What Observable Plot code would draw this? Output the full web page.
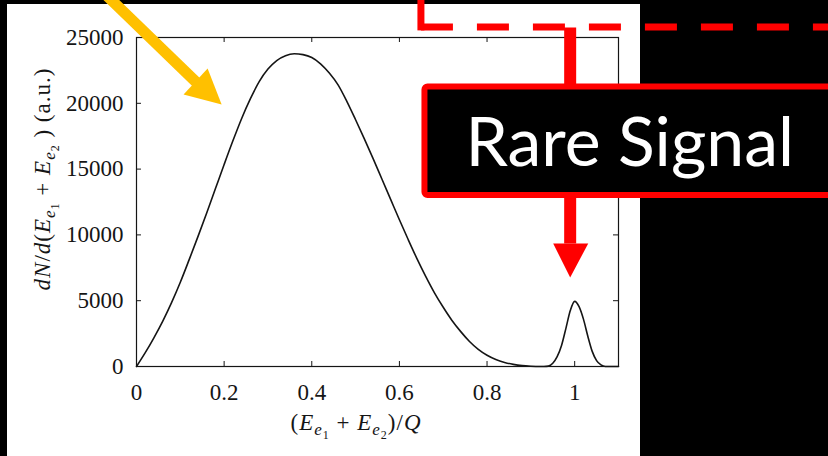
<!DOCTYPE html>
<html><head><meta charset="utf-8">
<script src="https://cdn.jsdelivr.net/npm/d3@7"></script>
<script src="https://cdn.jsdelivr.net/npm/@observablehq/plot@0.6"></script>
<style>
html,body{margin:0;padding:0;background:#000;width:828px;height:456px;overflow:hidden;}
#panel{position:absolute;left:7px;top:4px;width:633px;height:452px;background:#fff;}
#chart{position:absolute;left:0;top:0;}
</style></head><body>
<div id="panel"></div><div id="chart"></div>
<script>
// Summed electron energy (fraction of Q) and spectrum counts (a.u.)
const energyFraction = [0, 0.02, 0.04, 0.06, 0.08, 0.10, 0.12, 0.14, 0.16, 0.18, 0.20, 0.22, 0.24, 0.26, 0.28, 0.30, 0.32, 0.34, 0.36, 0.38, 0.40,
  0.42, 0.44, 0.46, 0.48, 0.50, 0.52, 0.54, 0.56, 0.58, 0.60, 0.62, 0.64, 0.66, 0.68, 0.70, 0.72, 0.74, 0.76, 0.78, 0.80,
  0.82, 0.84, 0.86, 0.88, 0.90, 0.92, 0.93, 0.94, 0.95, 0.96, 0.97, 0.98, 0.99, 1.00, 1.01, 1.02, 1.03, 1.04, 1.05, 1.06, 1.07, 1.08, 1.10];
const spectrumCounts = [0, 1050, 2200, 3450, 4850, 6400, 8100, 9850, 11650, 13500, 15350, 17150, 18850, 20350, 21650, 22600, 23250, 23620, 23760, 23700, 23480,
  23000, 22300, 21400, 20150, 18750, 17300, 15800, 14250, 12700, 11150, 9650, 8200, 6850, 5600, 4500, 3500, 2650, 1900, 1300, 850,
  530, 310, 160, 65, 20, 0, 0, 30, 250, 750, 1600, 2900, 4250, 4950, 4550, 3600, 2300, 1150, 450, 120, 0, 0, 0];

const xTicks = [0, 0.2, 0.4, 0.6, 0.8, 1];
const xTickLabels = ["0", "0.2", "0.4", "0.6", "0.8", "1"];
const yTicks = [0, 5000, 10000, 15000, 20000, 25000];
const yTickLabels = ["0", "5000", "10000", "15000", "20000", "25000"];

// Annotations (in data units)
const yellowShaft = [{x: -0.08, y: 28576}, {x: 0.1394, y: 21507}];
const yellowHead = [{x: 0.1943, y: 19910}, {x: 0.1074, y: 20671}, {x: 0.1623, y: 22646}];
const redCorner = [{x: 0.6491, y: 28300}, {x: 0.6491, y: 25540}];
const redDash = [{x: 0.6491, y: 25802}, {x: 1.66, y: 25802}];
const redShaft = [{x: 0.9897, y: 25764}, {x: 0.9897, y: 9348}];
const redHead = [{x: 0.9509, y: 9348}, {x: 1.0309, y: 9348}, {x: 0.9897, y: 6764}];
const signalBox = [{x1: 0.6583, x2: 1.62, y1: 21242, y2: 12996}];
const signalLabel = [{x: 1.1257, y: 16872, text: "Rare Signal"}];

const spectrum = energyFraction.map((x, i) => ({x, y: spectrumCounts[i]}));
const tickLenX = 0.0114, tickLenY = 380;
const ink = "#151515";

const plot = Plot.plot({
  width: 828, height: 456,
  marginLeft: 136, marginRight: 210, marginTop: 37, marginBottom: 90,
  style: {background: "transparent", fontFamily: "'Liberation Serif', serif", fontSize: "23px", color: ink},
  x: {domain: [0, 1.1]},
  y: {domain: [0, 25000]},
  marks: [
    Plot.frame({stroke: ink, strokeWidth: 1.2}),
    Plot.ruleY(yTicks, {y: d => d, x1: 0, x2: tickLenX, stroke: ink}),
    Plot.ruleY(yTicks, {y: d => d, x1: 1.1 - tickLenX, x2: 1.1, stroke: ink}),
    Plot.ruleX(xTicks, {x: d => d, y1: 0, y2: tickLenY, stroke: ink}),
    Plot.ruleX(xTicks, {x: d => d, y1: 25000 - tickLenY, y2: 25000, stroke: ink}),
    Plot.axisX(xTicks, {tickSize: 0, tickPadding: 17, fontSize: 23, label: null, tickFormat: d => xTickLabels[xTicks.indexOf(d)]}),
    Plot.axisY(yTicks, {tickSize: 0, tickPadding: 13, fontSize: 23, label: null, tickFormat: d => yTickLabels[yTicks.indexOf(d)]}),
    Plot.line(spectrum, {x: "x", y: "y", stroke: ink, strokeWidth: 1.6, curve: "monotone-x"}),
    // yellow arrow
    Plot.line(yellowShaft, {x: "x", y: "y", stroke: "#FFC000", strokeWidth: 11, strokeLinecap: "butt"}),
    Plot.line(yellowHead, {x: "x", y: "y", fill: "#FFC000", stroke: "none"}),
    // red dashed guide
    Plot.line(redCorner, {x: "x", y: "y", stroke: "#FF0000", strokeWidth: 7, strokeLinecap: "butt"}),
    Plot.line(redDash, {x: "x", y: "y", stroke: "#FF0000", strokeWidth: 7, strokeLinecap: "butt", strokeDasharray: "32,24"}),
    Plot.line(redShaft, {x: "x", y: "y", stroke: "#FF0000", strokeWidth: 12, strokeLinecap: "butt"}),
    Plot.line(redHead, {x: "x", y: "y", fill: "#FF0000", stroke: "none"}),
    Plot.rect(signalBox, {x1: "x1", x2: "x2", y1: "y1", y2: "y2", fill: "#000", stroke: "#FF0000", strokeWidth: 6, rx: 3}),
    Plot.text(signalLabel, {x: "x", y: "y", text: "text", fill: "#fff", fontSize: 68, fontFamily: "Lato", textAnchor: "middle"})
  ]
});
document.getElementById("chart").appendChild(plot);

// Math-style axis titles with subscripts
const svg = d3.select(plot);
function mathText(parts, x, y, rotate) {
  const t = svg.append("text")
    .attr("transform", `translate(${x},${y})` + (rotate ? ` rotate(${rotate})` : ""))
    .attr("text-anchor", "middle")
    .attr("fill", ink)
    .attr("font-family", "'Liberation Serif', serif")
    .attr("font-size", 23)
    .attr("letter-spacing", 1);
  let cur = 0;
  for (const p of parts) {
    const ts = t.append("tspan").text(p.t)
      .attr("font-style", p.i ? "italic" : "normal")
      .attr("font-size", p.s || 23);
    const sh = p.sh || 0;
    if (sh !== cur) ts.attr("dy", sh - cur);
    cur = sh;
  }
}
const sub = (t) => ({t, i: true, s: 17, sh: 5});
const subsub = (t) => ({t, i: false, s: 12, sh: 9});
mathText([
  {t: "("}, {t: "E", i: true}, sub("e"), subsub("1"), {t: " + "},
  {t: "E", i: true}, sub("e"), subsub("2"), {t: ")/"}, {t: "Q", i: true}
], 356, 430);
mathText([
  {t: "d", i: true}, {t: "N", i: true}, {t: "/"}, {t: "d", i: true}, {t: "("},
  {t: "E", i: true}, sub("e"), subsub("1"), {t: " + "},
  {t: "E", i: true}, sub("e"), subsub("2"), {t: " ) (a.u.)"}
], 50, 179, -90);
</script>
</body></html>
